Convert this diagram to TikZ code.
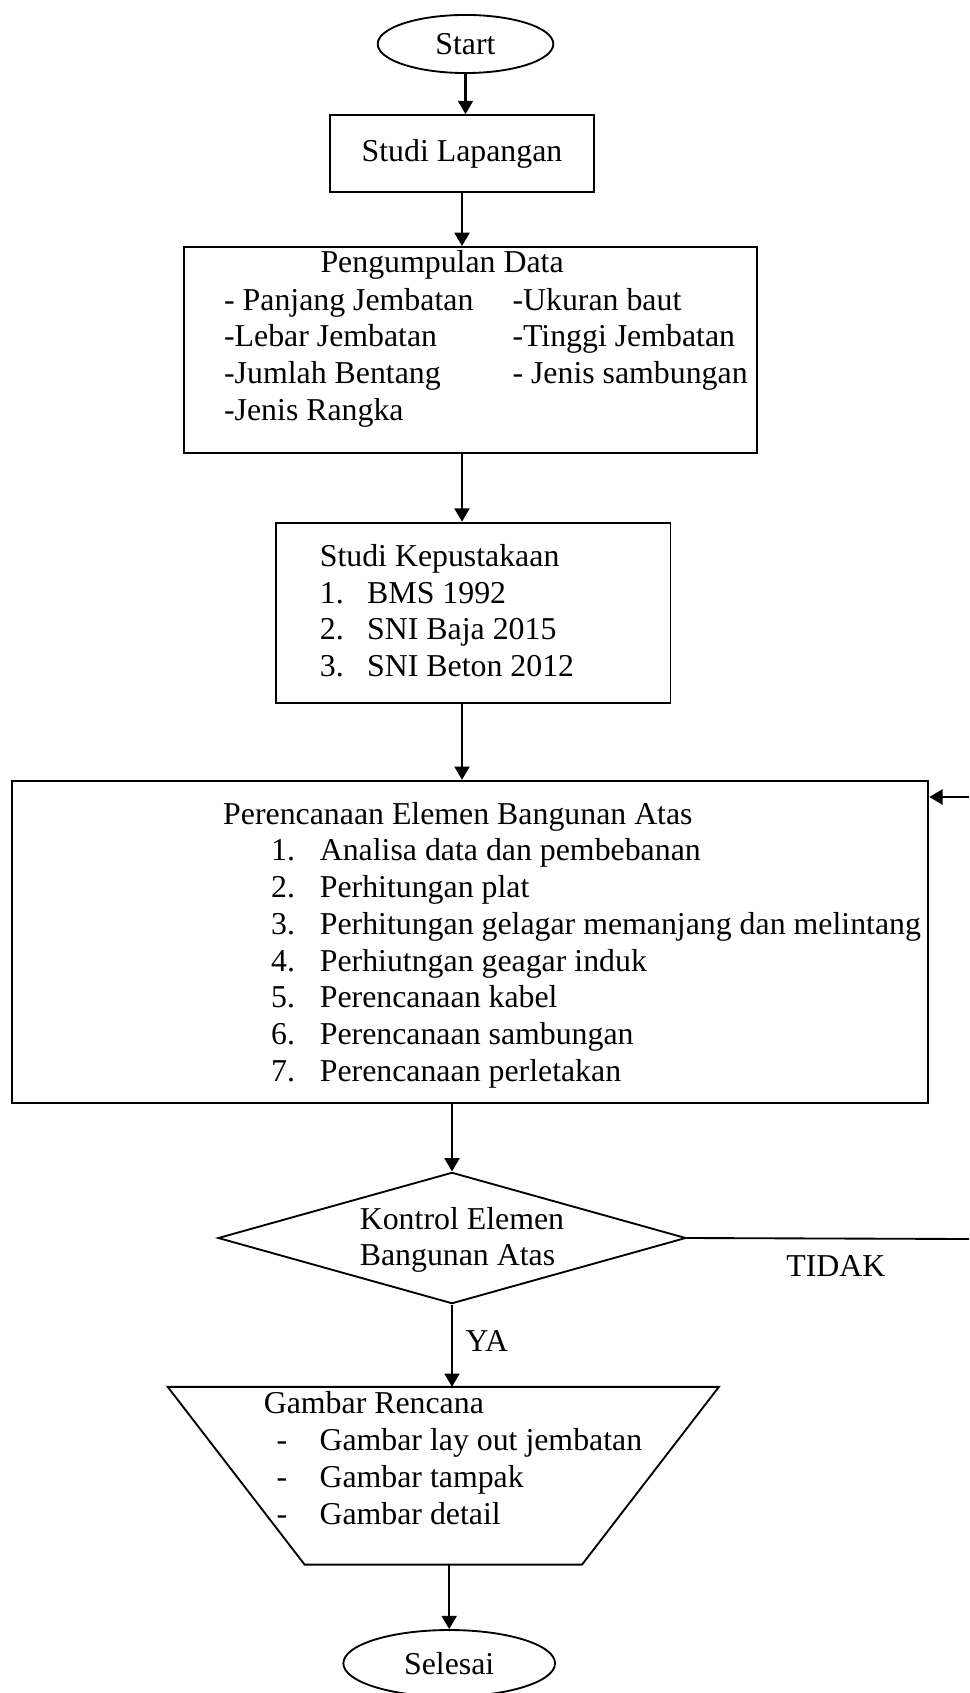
\documentclass[tikz,border=0pt]{standalone}
\usepackage{fontspec}
\setmainfont{Liberation Serif}
\usetikzlibrary{shapes.geometric, arrows.meta}

\begin{document}
\begin{tikzpicture}[x=0.377pt, y=-0.377pt,
    font=\fontsize{12}{13.8}\selectfont,
    >={Triangle[width=5.6pt,length=5pt]},
    kotak/.style={draw, line width=0.7pt, inner sep=0pt},
    oval/.style={draw, ellipse, line width=0.7pt, inner sep=0pt},
    baris/.style={anchor=base west, inner sep=0pt},
    panah/.style={->, line width=0.9pt}]
    \useasboundingbox (0,0) rectangle (969,1693);

    % Start and field study
    \node[oval, minimum width=66.2pt, minimum height=21.9pt] (start) at (465.5,44) {Start};
    \node[kotak, minimum width=99.5pt, minimum height=29pt] (lapangan) at (462,153.5) {Studi Lapangan};

    % Data collection
    \node[kotak, minimum width=216pt, minimum height=77.7pt] (data) at (470.5,350) {};
    \node[baris] (dataJ) at (320,273) {Pengumpulan Data};
    \node[baris] (data1) at (223.6,310.5) {- Panjang Jembatan};
    \node[baris] (data2) at (512,310.5) {-Ukuran baut};
    \node[baris] (data3) at (223.6,347) {-Lebar Jembatan};
    \node[baris] (data4) at (512,347) {-Tinggi Jembatan};
    \node[baris] (data5) at (223.6,384) {-Jumlah Bentang};
    \node[baris] (data6) at (512,384) {- Jenis sambungan};
    \node[baris] (data7) at (223.6,421) {-Jenis Rangka};

    % Literature study
    \node[kotak, minimum width=148.7pt, minimum height=67.9pt] (pustaka) at (473.2,612.7) {};
    \node[baris] (pustakaJ) at (319.3,566.7) {Studi Kepustakaan};
    \node[baris] (pustakaN1) at (319.3,603.3) {1.};
    \node[baris] (pustaka1) at (366.7,603.3) {BMS 1992};
    \node[baris] (pustakaN2) at (319.3,639.8) {2.};
    \node[baris] (pustaka2) at (366.7,639.8) {SNI Baja 2015};
    \node[baris] (pustakaN3) at (319.3,676.3) {3.};
    \node[baris] (pustaka3) at (366.7,676.3) {SNI Beton 2012};

    % Design of upper structure
    \node[kotak, minimum width=345.4pt, minimum height=121.5pt] (rencana) at (470.2,941.9) {};
    \node[baris] (rencanaJ) at (222.7,824) {Perencanaan Elemen Bangunan Atas};
    \node[baris] (rencanaN1) at (270.7,860.7) {1.};
    \node[baris] (rencana1) at (319.3,860.7) {Analisa data dan pembebanan};
    \node[baris] (rencanaN2) at (270.7,897.5) {2.};
    \node[baris] (rencana2) at (319.3,897.5) {Perhitungan plat};
    \node[baris] (rencanaN3) at (270.7,934.3) {3.};
    \node[baris] (rencana3) at (319.3,934.3) {Perhitungan gelagar memanjang dan melintang};
    \node[baris] (rencanaN4) at (270.7,971.1) {4.};
    \node[baris] (rencana4) at (319.3,971.1) {Perhiutngan geagar induk};
    \node[baris] (rencanaN5) at (270.7,1007.9) {5.};
    \node[baris] (rencana5) at (319.3,1007.9) {Perencanaan kabel};
    \node[baris] (rencanaN6) at (270.7,1044.7) {6.};
    \node[baris] (rencana6) at (319.3,1044.7) {Perencanaan sambungan};
    \node[baris] (rencanaN7) at (270.7,1081.5) {7.};
    \node[baris] (rencana7) at (319.3,1081.5) {Perencanaan perletakan};

    % Check
    \node[draw, diamond, line width=0.7pt, inner sep=0pt, minimum width=176.4pt, minimum height=49.5pt] (kontrol) at (452,1238) {};
    \node[baris] (kontrol1) at (359.3,1229) {Kontrol Elemen};
    \node[baris] (kontrol2) at (359.3,1265.7) {Bangunan Atas};
    \node[anchor=base, inner sep=0pt] (tidak) at (835.8,1276) {TIDAK};
    \node[baris] (ya) at (465,1351.7) {YA};

    % Drawings (inverted trapezium)
    \node[inner sep=0pt, minimum width=207.4pt, minimum height=66.6pt] (gambar) at (443.3,1475.7) {};
    \draw[line width=0.7pt] (gambar.north west) -- (gambar.north east)
        -- ([xshift=-51.6pt]gambar.south east) -- ([xshift=51.6pt]gambar.south west) -- cycle;
    \node[baris] (gambarJ) at (263.3,1413) {Gambar Rencana};
    \node[baris] (gambarS1) at (276,1450.7) {-};
    \node[baris] (gambar1) at (319,1450.7) {Gambar lay out jembatan};
    \node[baris] (gambarS2) at (276,1487.3) {-};
    \node[baris] (gambar2) at (319,1487.3) {Gambar tampak};
    \node[baris] (gambarS3) at (276,1524) {-};
    \node[baris] (gambar3) at (319,1524) {Gambar detail};

    \node[oval, minimum width=79.8pt, minimum height=25.1pt] (selesai) at (449.2,1663.3) {Selesai};

    % Connectors
    \draw[panah] (start) -- (start |- lapangan.north);
    \draw[panah] (lapangan) -- (lapangan |- data.north);
    \draw[panah] (data.south -| lapangan) -- (pustaka.north -| lapangan);
    \draw[panah] (pustaka.south -| lapangan) -- (rencana.north -| lapangan);
    \draw[panah] (rencana.south -| kontrol) -- (kontrol.north);
    \draw[panah] (kontrol.south) -- (kontrol.south |- gambar.north);
    \draw[panah] (gambar.south -| selesai) -- (selesai.north);

    % Back to design when the check fails
    \coordinate (tidakUjung) at (969,1239);
    \coordinate (balik) at (969,797);
    \draw[line width=0.7pt] (kontrol.east) -- (tidakUjung);
    \draw[panah] (balik) -- (balik -| rencana.east);
\end{tikzpicture}
\end{document}
